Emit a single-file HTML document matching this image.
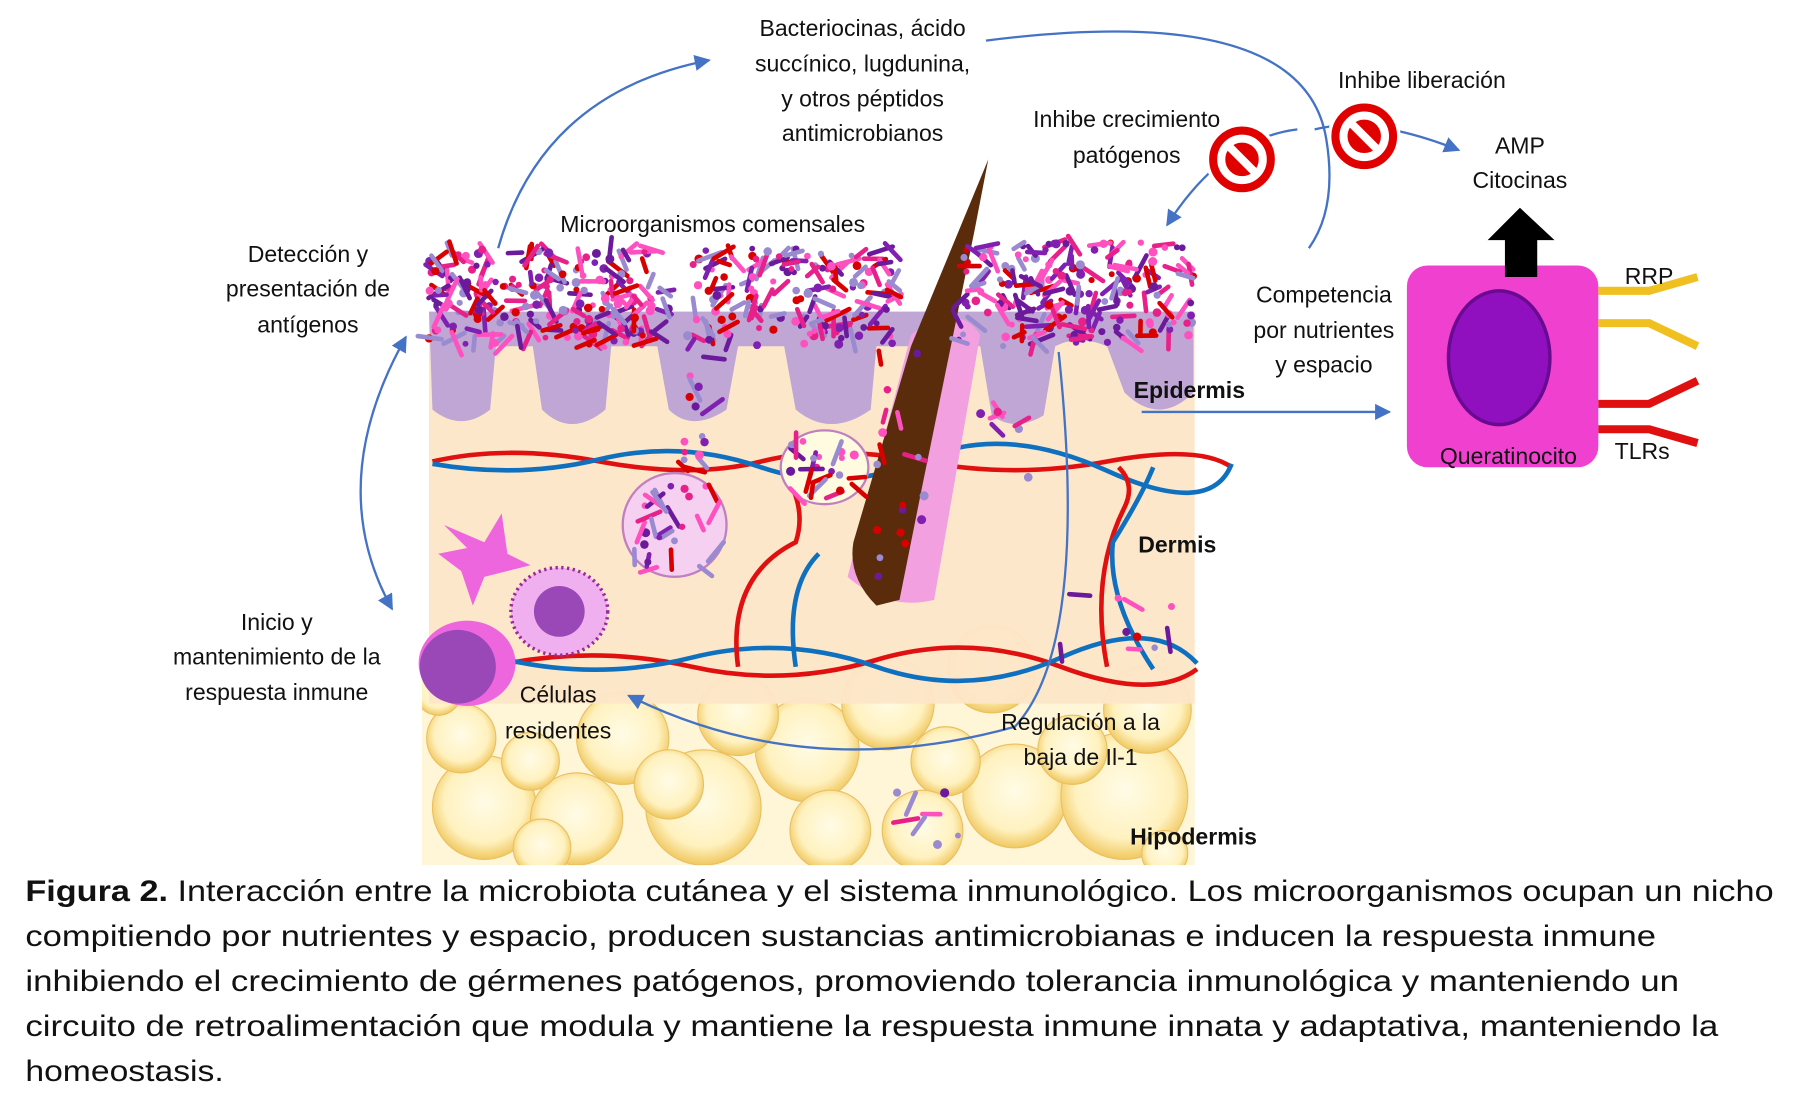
<!DOCTYPE html>
<html><head><meta charset="utf-8"><style>
html,body{margin:0;padding:0;background:#fff}
svg{display:block}
text{font-family:"Liberation Sans",sans-serif;fill:#111}
</style></head><body>
<svg id="s" width="1799" height="1111" viewBox="0 0 1560 963" xmlns="http://www.w3.org/2000/svg">
<defs>
<radialGradient id="fat" cx="50%" cy="45%" r="55%"><stop offset="0" stop-color="#fffbe6"/><stop offset="0.7" stop-color="#fff2c0"/><stop offset="1" stop-color="#f0c860"/></radialGradient>
<marker id="ar" viewBox="0 0 10 10" refX="9" refY="5" markerWidth="7" markerHeight="7" orient="auto-start-reverse"><path d="M0,0 L10,5 L0,10 z" fill="#4472c4"/></marker>
<clipPath id="cp"><rect x="366" y="540" width="670" height="210"/></clipPath>
</defs>
<rect x="366" y="560" width="670" height="190" fill="#fff6d8"/>
<g id="fatg" clip-path="url(#cp)"></g>
<rect x="372" y="270" width="664" height="340" fill="#fde6c8" opacity="0.95"/>
<path d="M372,270 L1035,270 L1035,340 Q1005,370 975,340 L960,300 Q935,290 915,300 L905,360 Q880,375 860,360 L850,300 L760,300 L755,355 Q720,380 690,355 L680,300 L640,300 L630,355 Q600,375 580,355 L570,300 L530,300 L525,355 Q495,380 470,355 L462,300 L430,300 L425,355 Q400,375 375,355 Z" fill="#b49ad6" opacity="0.85"/>
<g fill="none" stroke-width="4">
<path d="M375,400 Q440,385 520,400 T660,400 T800,400 T960,400 T1068,405" stroke="#e01010"/>
<path d="M375,402 Q450,415 520,398 T660,405 T800,398 T960,408 T1068,402" stroke="#1070c0"/>
<path d="M440,575 Q520,560 600,578 T760,572 T920,578 T1038,580" stroke="#e01010"/>
<path d="M440,572 Q520,590 600,570 T760,578 T920,570 T1038,575" stroke="#1070c0"/>
<path d="M640,578 Q630,500 690,470 Q700,440 680,410" stroke="#e01010"/>
<path d="M690,578 Q680,510 710,480" stroke="#1070c0"/>
<path d="M960,578 Q945,500 975,440 Q985,420 970,405" stroke="#e01010"/>
<path d="M1000,580 Q960,520 965,470 Q990,430 1000,405" stroke="#1070c0"/>
</g>
<path d="M790,290 Q830,260 850,290 L810,520 Q770,530 735,500 Z" fill="#f2a0e0"/>
<path d="M857,138 L845,200 L800,420 Q790,470 780,520 L760,525 Q735,500 740,470 L790,300 Z" fill="#5a2c0c"/>
<ellipse cx="585" cy="455" rx="45" ry="45" fill="#f5d0f0" stroke="#c080c0" stroke-width="2"/>
<ellipse cx="715" cy="405" rx="38" ry="32" fill="#fffbe0" stroke="#c080c0" stroke-width="2"/>
<g id="mic"></g>
<path d="M385,455 L420,470 L435,445 L440,480 L460,490 L420,500 L410,525 L400,495 L380,480 L405,475 Z" fill="#ee66dd"/>
<ellipse cx="485" cy="530" rx="42" ry="38" fill="#f0b0f0" stroke="#9a2a9a" stroke-dasharray="2 3" stroke-width="3"/>
<ellipse cx="485" cy="530" rx="22" ry="22" fill="#9a48b8"/>
<ellipse cx="405" cy="575" rx="42" ry="37" fill="#ee66dd"/>
<ellipse cx="397" cy="578" rx="33" ry="32" fill="#9a48b8"/>
<g fill="none" stroke="#4472c4" stroke-width="2">
<path d="M432,215 Q470,80 615,52" marker-end="url(#ar)"/>
<path d="M352,292 Q280,420 340,528" marker-start="url(#ar)" marker-end="url(#ar)"/>
<path d="M855,35 Q1130,0 1150,120 Q1160,180 1135,215"/>
<path d="M1125,112 Q1060,120 1012,195" marker-end="url(#ar)"/>
<path d="M1140,112 Q1190,100 1265,130" marker-end="url(#ar)"/>
<path d="M990,357 L1205,357" marker-end="url(#ar)"/>
<path d="M918,305 Q945,560 880,630 Q700,680 545,603" marker-end="url(#ar)"/>
</g>
<g stroke="#fff" stroke-width="3"><circle cx="1077" cy="138" r="30" fill="#e00000"/><circle cx="1183" cy="118" r="30" fill="#e00000"/></g>
<g stroke="#fff" stroke-width="7" fill="none"><circle cx="1077" cy="138" r="18"/><line x1="1064" y1="125" x2="1090" y2="151"/><circle cx="1183" cy="118" r="18"/><line x1="1170" y1="105" x2="1196" y2="131"/></g>
<rect x="1220" y="230" width="166" height="175" rx="18" fill="#f040d0"/>
<ellipse cx="1300" cy="310" rx="44" ry="58" fill="#9010c0" stroke="#6a0a90" stroke-width="3"/>
<path d="M1305,240 V208 H1290 L1318,180 L1348,208 H1333 V240 Z" fill="#000"/>
<g fill="none" stroke-width="7"><path d="M1386,252 H1430 L1472,240" stroke="#f0c020"/><path d="M1386,280 H1430 L1472,300" stroke="#f0c020"/><path d="M1386,350 H1430 L1472,330" stroke="#e01010"/><path d="M1386,372 H1430 L1472,384" stroke="#e01010"/></g>
<g font-size="20" text-anchor="middle">
<text x="748" y="31">Bacteriocinas, ácido</text><text x="748" y="62">succínico, lugdunina,</text><text x="748" y="92">y otros péptidos</text><text x="748" y="122">antimicrobianos</text>
<text x="1233" y="76">Inhibe liberación</text>
<text x="977" y="110">Inhibe crecimiento</text><text x="977" y="141">patógenos</text>
<text x="1318" y="133">AMP</text><text x="1318" y="163">Citocinas</text>
<text x="618" y="201">Microorganismos comensales</text>
<text x="267" y="227">Detección y</text><text x="267" y="257">presentación de</text><text x="267" y="288">antígenos</text>
<text x="1148" y="262">Competencia</text><text x="1148" y="293">por nutrientes</text><text x="1148" y="323">y espacio</text>
<text x="1430" y="246">RRP</text><text x="1424" y="398">TLRs</text>
<text x="1308" y="402">Queratinocito</text>
<text x="240" y="546">Inicio y</text><text x="240" y="576">mantenimiento de la</text><text x="240" y="607">respuesta inmune</text>
<text x="484" y="609">Células</text><text x="484" y="640">residentes</text>
<text x="937" y="633">Regulación a la</text><text x="937" y="663">baja de Il-1</text>
</g>
<g font-size="20" font-weight="bold"><text x="983" y="345">Epidermis</text><text x="987" y="479">Dermis</text><text x="980" y="732">Hipodermis</text></g>
<g font-size="26">
<text x="22" y="781" textLength="1516" lengthAdjust="spacingAndGlyphs"><tspan font-weight="bold">Figura 2.</tspan> Interacción entre la microbiota cutánea y el sistema inmunológico. Los microorganismos ocupan un nicho</text>
<text x="22" y="820" textLength="1414" lengthAdjust="spacingAndGlyphs">compitiendo por nutrientes y espacio, producen sustancias antimicrobianas e inducen la respuesta inmune</text>
<text x="22" y="859" textLength="1434" lengthAdjust="spacingAndGlyphs">inhibiendo el crecimiento de gérmenes patógenos, promoviendo tolerancia inmunológica y manteniendo un</text>
<text x="22" y="898" textLength="1468" lengthAdjust="spacingAndGlyphs">circuito de retroalimentación que modula y mantiene la respuesta inmune innata y adaptativa, manteniendo la</text>
<text x="22" y="937" textLength="172" lengthAdjust="spacingAndGlyphs">homeostasis.</text>
</g>
</svg>
<script>
var ns="http://www.w3.org/2000/svg",seed=7;function r(){seed=(seed*16807)%2147483647;return seed/2147483647;}
function el(p,t,a){var e=document.createElementNS(ns,t);for(var k in a)e.setAttribute(k,a[k]);p.appendChild(e);return e;}
var f=document.getElementById('fatg');
[[420,700,45],[500,710,40],[610,700,50],[700,650,45],[770,610,40],[860,580,38],[880,690,45],[975,690,55],[995,615,38],[540,640,40],[640,620,35],[720,720,35],[400,640,30],[460,660,25],[580,680,30],[820,660,30],[930,650,30],[380,600,20],[800,720,35],[470,735,25],[1010,740,20]].forEach(function(c){el(f,'circle',{cx:c[0],cy:c[1],r:c[2],fill:'url(#fat)',stroke:'#eac060','stroke-width':1});});
var m=document.getElementById('mic'),cols=['#e8208a','#d80000','#8020b0','#9a8ad0','#6a1a9a','#ff50c0'];
function blob(x0,x1,y0,y1,n){for(var i=0;i<n;i++){var x=x0+r()*(x1-x0),y=y0+r()*(y1-y0),c=cols[Math.floor(r()*6)];
if(r()<0.5)el(m,'circle',{cx:x,cy:y,r:2.5+r()*1.5,fill:c});else{var a=r()*6.28,l=5+r()*6;el(m,'line',{x1:x-Math.cos(a)*l,y1:y-Math.sin(a)*l,x2:x+Math.cos(a)*l,y2:y+Math.sin(a)*l,stroke:c,'stroke-width':4,'stroke-linecap':'round'});}}}
blob(372,580,215,300,260);blob(600,780,215,300,170);blob(830,1035,210,300,220);
blob(590,625,280,420,20);blob(550,625,420,495,30);blob(685,745,380,430,25);blob(760,820,290,500,20);
blob(840,900,355,415,8);blob(915,1020,515,570,10);blob(775,835,670,745,8);
</script>
</body></html>
